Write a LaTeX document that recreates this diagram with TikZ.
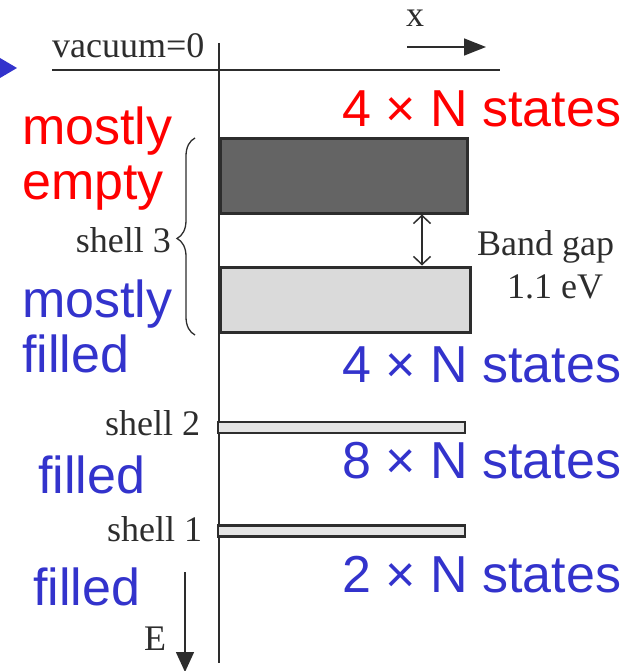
\documentclass[tikz,border=0pt]{standalone}
\usepackage{fontspec}
\usepackage{tikz}
\usetikzlibrary{arrows.meta,decorations.pathreplacing}
\newfontfamily\scanfont{Liberation Serif}
\newfontfamily\slidefont{Liberation Sans}
\definecolor{hlred}{RGB}{255,0,0}
\definecolor{hlblue}{RGB}{51,51,204}
\definecolor{scangray}{RGB}{45,45,45}
\definecolor{darkband}{RGB}{100,100,100}
\definecolor{lightband}{RGB}{218,218,218}
\definecolor{thinband}{RGB}{228,228,228}
\tikzset{
  scan/.style={text=scangray, font=\scanfont\fontsize{36}{40}\selectfont, inner sep=0pt},
  redlbl/.style={text=hlred, font=\slidefont\fontsize{52}{58}\selectfont, inner sep=0pt},
  bluelbl/.style={text=hlblue, font=\slidefont\fontsize{52}{58}\selectfont, inner sep=0pt},
  band/.style={draw=scangray, line width=3pt, inner sep=0pt, minimum width=247pt},
  axisline/.style={draw=scangray, line width=2pt}
}
\begin{document}
\begin{tikzpicture}[x=1pt,y=-1pt]
  \useasboundingbox (0,0) rectangle (636,671);
  % pointer
  \fill[hlblue] (0,58) -- (17,68) -- (0,78) -- cycle;

  % axes
  \coordinate (axtop) at (219,43);
  \coordinate (axbot) at (219,663);
  \coordinate (vacl) at (52,70);
  \coordinate (vacr) at (500,70);
  \draw[axisline] (axtop) -- (axbot);
  \draw[axisline, line width=2.5pt] (vacl) -- (vacr);
  \node[scan, anchor=base west] (vac) at (52,58) {vacuum=0};

  % x direction
  \coordinate (xs) at (407,47);
  \coordinate (xe) at (486,47);
  \draw[scangray, line width=1.5pt, -{Triangle[length=22pt,width=17pt]}] (xs) -- (xe);
  \node[scan, anchor=base] (xlbl) at (415,27) {x};

  % E direction
  \coordinate (es) at (185,572);
  \coordinate (ee) at (185,672);
  \draw[scangray, line width=1.5pt, -{Triangle[length=20pt,width=18pt]}] (es) -- (ee);
  \node[scan, anchor=base] (elbl) at (155,650) {E};

  % shell 3
  \node[band, fill=darkband, minimum height=74pt] (cond) at (343.5,176) {};
  \node[band, fill=lightband, minimum width=250pt, minimum height=65pt] (val) at (345,299.5) {};
  \coordinate (gapx) at (422,0);
  \draw[scangray, line width=1.5pt, {Straight Barb[length=8pt,width=17pt]}-{Straight Barb[length=8pt,width=17pt]}]
    (cond.south -| gapx) -- (val.north -| gapx);
  \node[scan, anchor=base west] (gap) at (477,255) {Band gap};
  \node[scan, anchor=base] (gapval) at (555,298) {1.1 eV};
  \draw[scangray, line width=1.3pt, decorate, decoration={brace, amplitude=18pt, aspect=0.49}]
    (195,335) -- (195,138);
  \node[scan, anchor=base east] (sh3) at (171,252) {shell 3};

  % shell 2
  \node[band, fill=thinband, line width=2.5pt, minimum height=11pt] (sh2band) at (341.5,427.5) {};
  \node[scan, anchor=base west] (sh2) at (105,435) {shell 2};

  % shell 1
  \node[band, fill=thinband, line width=2.5pt, minimum height=11pt] (sh1band) at (341.5,531) {};
  \node[scan, anchor=base west] (sh1) at (107,541) {shell 1};

  % filling labels
  \node[redlbl, anchor=base west] (most1) at (22,145) {mostly};
  \node[redlbl, anchor=base west] (empty) at (22,199) {empty};
  \node[bluelbl, anchor=base west] (most2) at (22,317) {mostly};
  \node[bluelbl, anchor=base west] (fill3) at (22,372) {filled};
  \node[bluelbl, anchor=base west] (fill2) at (38,493) {filled};
  \node[bluelbl, anchor=base west] (fill1) at (33,605) {filled};

  % state counts
  \node[redlbl, anchor=base west] (n3c) at (342,127) {4 × N states};
  \node[bluelbl, anchor=base west] (n3v) at (342,382) {4 × N states};
  \node[bluelbl, anchor=base west] (n2) at (342,478) {8 × N states};
  \node[bluelbl, anchor=base west] (n1) at (342,592) {2 × N states};
\end{tikzpicture}
\end{document}
